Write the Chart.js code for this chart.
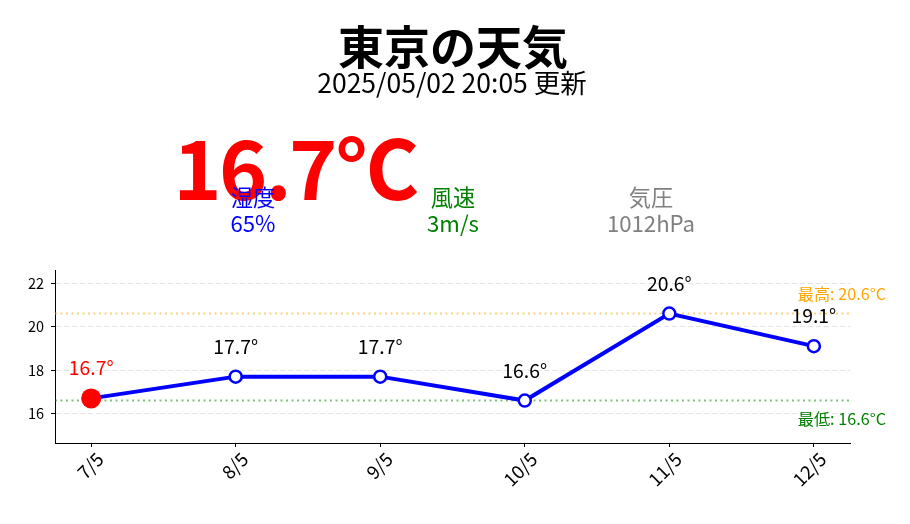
<!DOCTYPE html>
<html><head><meta charset="utf-8">
<script src="https://cdn.jsdelivr.net/npm/chart.js@4.4.1/dist/chart.umd.min.js"></script>
<style>
html,body{margin:0;padding:0;background:#fff;}
#wrap{position:relative;width:910px;height:524px;overflow:hidden;font-family:"Noto Sans CJK JP","Noto Sans",sans-serif;}
#c{position:absolute;left:0;top:0;}
.t{position:absolute;white-space:nowrap;line-height:1;transform:translateX(-50%);}
</style></head><body>
<div id="wrap">
<canvas id="c" width="910" height="524"></canvas>
<div class="t" style="left:453px;top:21px;font-size:46px;font-weight:bold;color:#000">東京の天気</div>
<div class="t" style="left:452px;top:68.5px;font-size:26.5px;color:#000">2025/05/02 20:05 更新</div>
<div class="t" style="left:295px;top:124px;font-size:82px;font-weight:bold;color:#ff0000;letter-spacing:-2.5px">16.7°C</div>
<div class="t" style="left:253px;top:184.7px;font-size:22.2px;color:#0000ff;text-align:center">湿度</div>
<div class="t" style="left:253px;top:210.9px;font-size:22.2px;color:#0000ff;text-align:center">65%</div>
<div class="t" style="left:453px;top:184.7px;font-size:22.2px;color:#008000;text-align:center">風速</div>
<div class="t" style="left:453px;top:210.9px;font-size:22.2px;color:#008000;text-align:center">3m/s</div>
<div class="t" style="left:651px;top:184.7px;font-size:22.2px;color:#808080;text-align:center">気圧</div>
<div class="t" style="left:651px;top:210.9px;font-size:22.2px;color:#808080;text-align:center">1012hPa</div>
</div>
<script>
const labels = ['7/5', '8/5', '9/5', '10/5', '11/5', '12/5'];
const temps = [16.7, 17.7, 17.7, 16.6, 20.6, 19.1];
const maxTemp = 20.6;
const minTemp = 16.6;
const yTicks = [16, 18, 20, 22];
const maxLabel = '最高: 20.6°C';
const minLabel = '最低: 16.6°C';

const FONT = '"Noto Sans CJK JP", "Noto Sans", sans-serif';
Chart.defaults.font.family = FONT;
Chart.defaults.color = '#000';

const xMin = -0.25, xMax = labels.length - 1 + 0.25;
const mainData = temps.map((v, i) => ({x: i, y: v}));
const hiData = [{x: xMin, y: maxTemp}, {x: xMax, y: maxTemp}];
const loData = [{x: xMin, y: minTemp}, {x: xMax, y: minTemp}];

const labelPlugin = {
  id: 'labels',
  afterDatasetsDraw(chart) {
    const ctx = chart.ctx;
    const meta = chart.getDatasetMeta(0);
    ctx.save();
    ctx.font = '19.4px ' + FONT;
    ctx.textAlign = 'center';
    ctx.textBaseline = 'alphabetic';
    meta.data.forEach((el, i) => {
      ctx.fillStyle = i === 0 ? '#ff0000' : '#000000';
      ctx.fillText(temps[i].toFixed(1) + '°', el.x, el.y - 23);
    });
    const ys = chart.scales.y;
    const ca = chart.chartArea;
    ctx.font = '16.2px ' + FONT;
    ctx.textAlign = 'right';
    ctx.textBaseline = 'middle';
    ctx.fillStyle = '#ffa500';
    ctx.fillText(maxLabel, ca.right + 36, ys.getPixelForValue(maxTemp) - 20);
    ctx.fillStyle = '#008000';
    ctx.fillText(minLabel, ca.right + 36, ys.getPixelForValue(minTemp) + 18);
    ctx.restore();
  }
};

new Chart(document.getElementById('c'), {
  type: 'line',
  data: {
    datasets: [
      {
        data: mainData,
        borderColor: '#0000ff',
        borderWidth: 4,
        pointRadius: temps.map((_, i) => i === 0 ? 10 : 6),
        pointBackgroundColor: temps.map((_, i) => i === 0 ? '#ff0000' : '#ffffff'),
        pointBorderColor: temps.map((_, i) => i === 0 ? '#ff0000' : '#0000ff'),
        pointBorderWidth: temps.map((_, i) => i === 0 ? 0 : 2.5),
        tension: 0,
        order: 0
      },
      {
        data: hiData,
        borderColor: 'rgba(255,165,0,0.5)',
        borderWidth: 2,
        borderDash: [2, 3.5],
        pointRadius: 0,
        order: 1
      },
      {
        data: loData,
        borderColor: 'rgba(0,128,0,0.5)',
        borderWidth: 2,
        borderDash: [2, 3.5],
        pointRadius: 0,
        order: 2
      }
    ]
  },
  options: {
    responsive: false,
    animation: false,
    devicePixelRatio: 1,
    layout: {padding: {top: 270, right: 60, left: 0, bottom: 0}},
    plugins: {legend: {display: false}, tooltip: {enabled: false}, title: {display: false}},
    scales: {
      x: {
        type: 'linear',
        min: xMin,
        max: xMax,
        afterBuildTicks: s => { s.ticks = labels.map((_, i) => ({value: i})); },
        afterFit: s => { s.height = 81; },
        ticks: {
          callback: v => labels[v],
          autoSkip: false,
          minRotation: 45,
          maxRotation: 45,
          font: {size: 18.5},
          color: '#000',
          padding: 1,
          labelOffset: 9
        },
        grid: {drawOnChartArea: false, drawTicks: true, tickLength: 4, tickColor: '#000', tickWidth: 1},
        border: {display: true, color: '#000', width: 1}
      },
      y: {
        min: 14.65,
        max: 22.6,
        afterBuildTicks: s => { s.ticks = yTicks.map(v => ({value: v})); },
        afterFit: s => { s.width = 55; },
        ticks: {font: {size: 14.5}, color: '#000', padding: 7},
        grid: {color: '#e3e3e3', lineWidth: 1, tickLength: 4, tickColor: '#000', tickWidth: 1, tickBorderDash: []},
        border: {display: true, color: '#000', width: 1, dash: [5, 3]}
      }
    }
  },
  plugins: [labelPlugin]
});
</script>
</body></html>
